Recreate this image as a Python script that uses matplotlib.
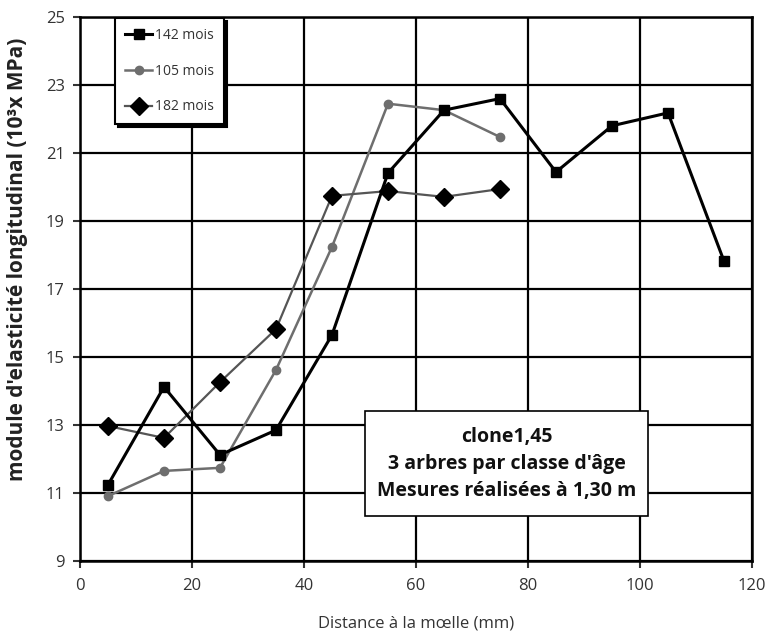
import matplotlib
matplotlib.use("Agg")
from matplotlib import pyplot as plt
from matplotlib.patches import Rectangle

plt.rcParams['font.family'] = ['Open Sans', 'DejaVu Sans']

# Distance from pith (mm)
dist_142 = [5, 15, 25, 35, 45, 55, 65, 75, 85, 95, 105, 115]
dist_105 = [5, 15, 25, 35, 45, 55, 65, 75]
dist_182 = [5, 15, 25, 35, 45, 55, 65, 75]

# Longitudinal modulus (10^3 MPa)
moe_142 = [11.24, 14.12, 12.12, 12.85, 15.65, 20.41, 22.26, 22.6, 20.44, 21.8, 22.18, 17.82]
moe_105 = [10.91, 11.65, 11.74, 14.62, 18.24, 22.45, 22.26, 21.47]
moe_182 = [12.97, 12.62, 14.26, 15.82, 19.74, 19.88, 19.71, 19.94]

labels = ["142 mois", "105 mois", "182 mois"]
x_ticks = [0, 20, 40, 60, 80, 100, 120]
y_ticks = [9, 11, 13, 15, 17, 19, 21, 23, 25]

fig = plt.figure(figsize=(7.66, 6.41), dpi=100)
ax = fig.add_axes([80 / 766, 80 / 641, 672 / 766, 544 / 641])

ax.plot(dist_142, moe_142, color='black', lw=2.2, marker='s', ms=7,
        label=labels[0], zorder=4)
ax.plot(dist_105, moe_105, color='#6e6e6e', lw=1.8, marker='o', ms=6,
        label=labels[1], zorder=3)
ax.plot(dist_182, moe_182, color='#555555', lw=1.6, marker='D', ms=9,
        mfc='black', mec='black', label=labels[2], zorder=3)

ax.set_xlim(0, 120)
ax.set_ylim(9, 25)
ax.set_xticks(x_ticks)
ax.set_yticks(y_ticks)
ax.grid(True, color='black', lw=1.6)
ax.set_axisbelow(True)
for s in ax.spines.values():
    s.set_linewidth(1.8)
ax.tick_params(direction='out', length=5, width=1.5, labelsize=12, colors='#333333')
ax.tick_params(axis='x', pad=7)
ax.tick_params(axis='y', pad=6)

ax.set_xlabel("Distance à la mœlle (mm)", fontsize=12, labelpad=16, color='#333333')
ax.set_ylabel("module d'elasticité longitudinal (10³x MPa)", fontsize=15,
              fontweight='bold', color='#222222')
ax.yaxis.set_label_coords(-0.078, 0.555)

leg = ax.legend(loc='upper left', bbox_to_anchor=(0.052, 0.998), borderaxespad=0,
                fontsize=10, handlelength=2.0, labelspacing=1.5, handletextpad=0.2,
                borderpad=0.7, fancybox=False, framealpha=1, edgecolor='black',
                shadow={'color': 'black', 'alpha': 1})
leg.get_frame().set_linewidth(1.5)
for t in leg.get_texts():
    t.set_color('#333333')

box = Rectangle((0.4246, 0.083), 0.4205, 0.193, transform=ax.transAxes,
                facecolor='white', edgecolor='black', lw=1.2, zorder=5)
ax.add_patch(box)
box_lines = ["clone1,45", "3 arbres par classe d'âge", "Mesures réalisées à 1,30 m"]
for i, line in enumerate(box_lines):
    ax.text(0.635, 0.228 - i * 0.05, line, transform=ax.transAxes, ha='center',
            va='center', fontsize=14, fontweight='bold', color='#111111', zorder=6)

fig.savefig("out.png", dpi=100)
